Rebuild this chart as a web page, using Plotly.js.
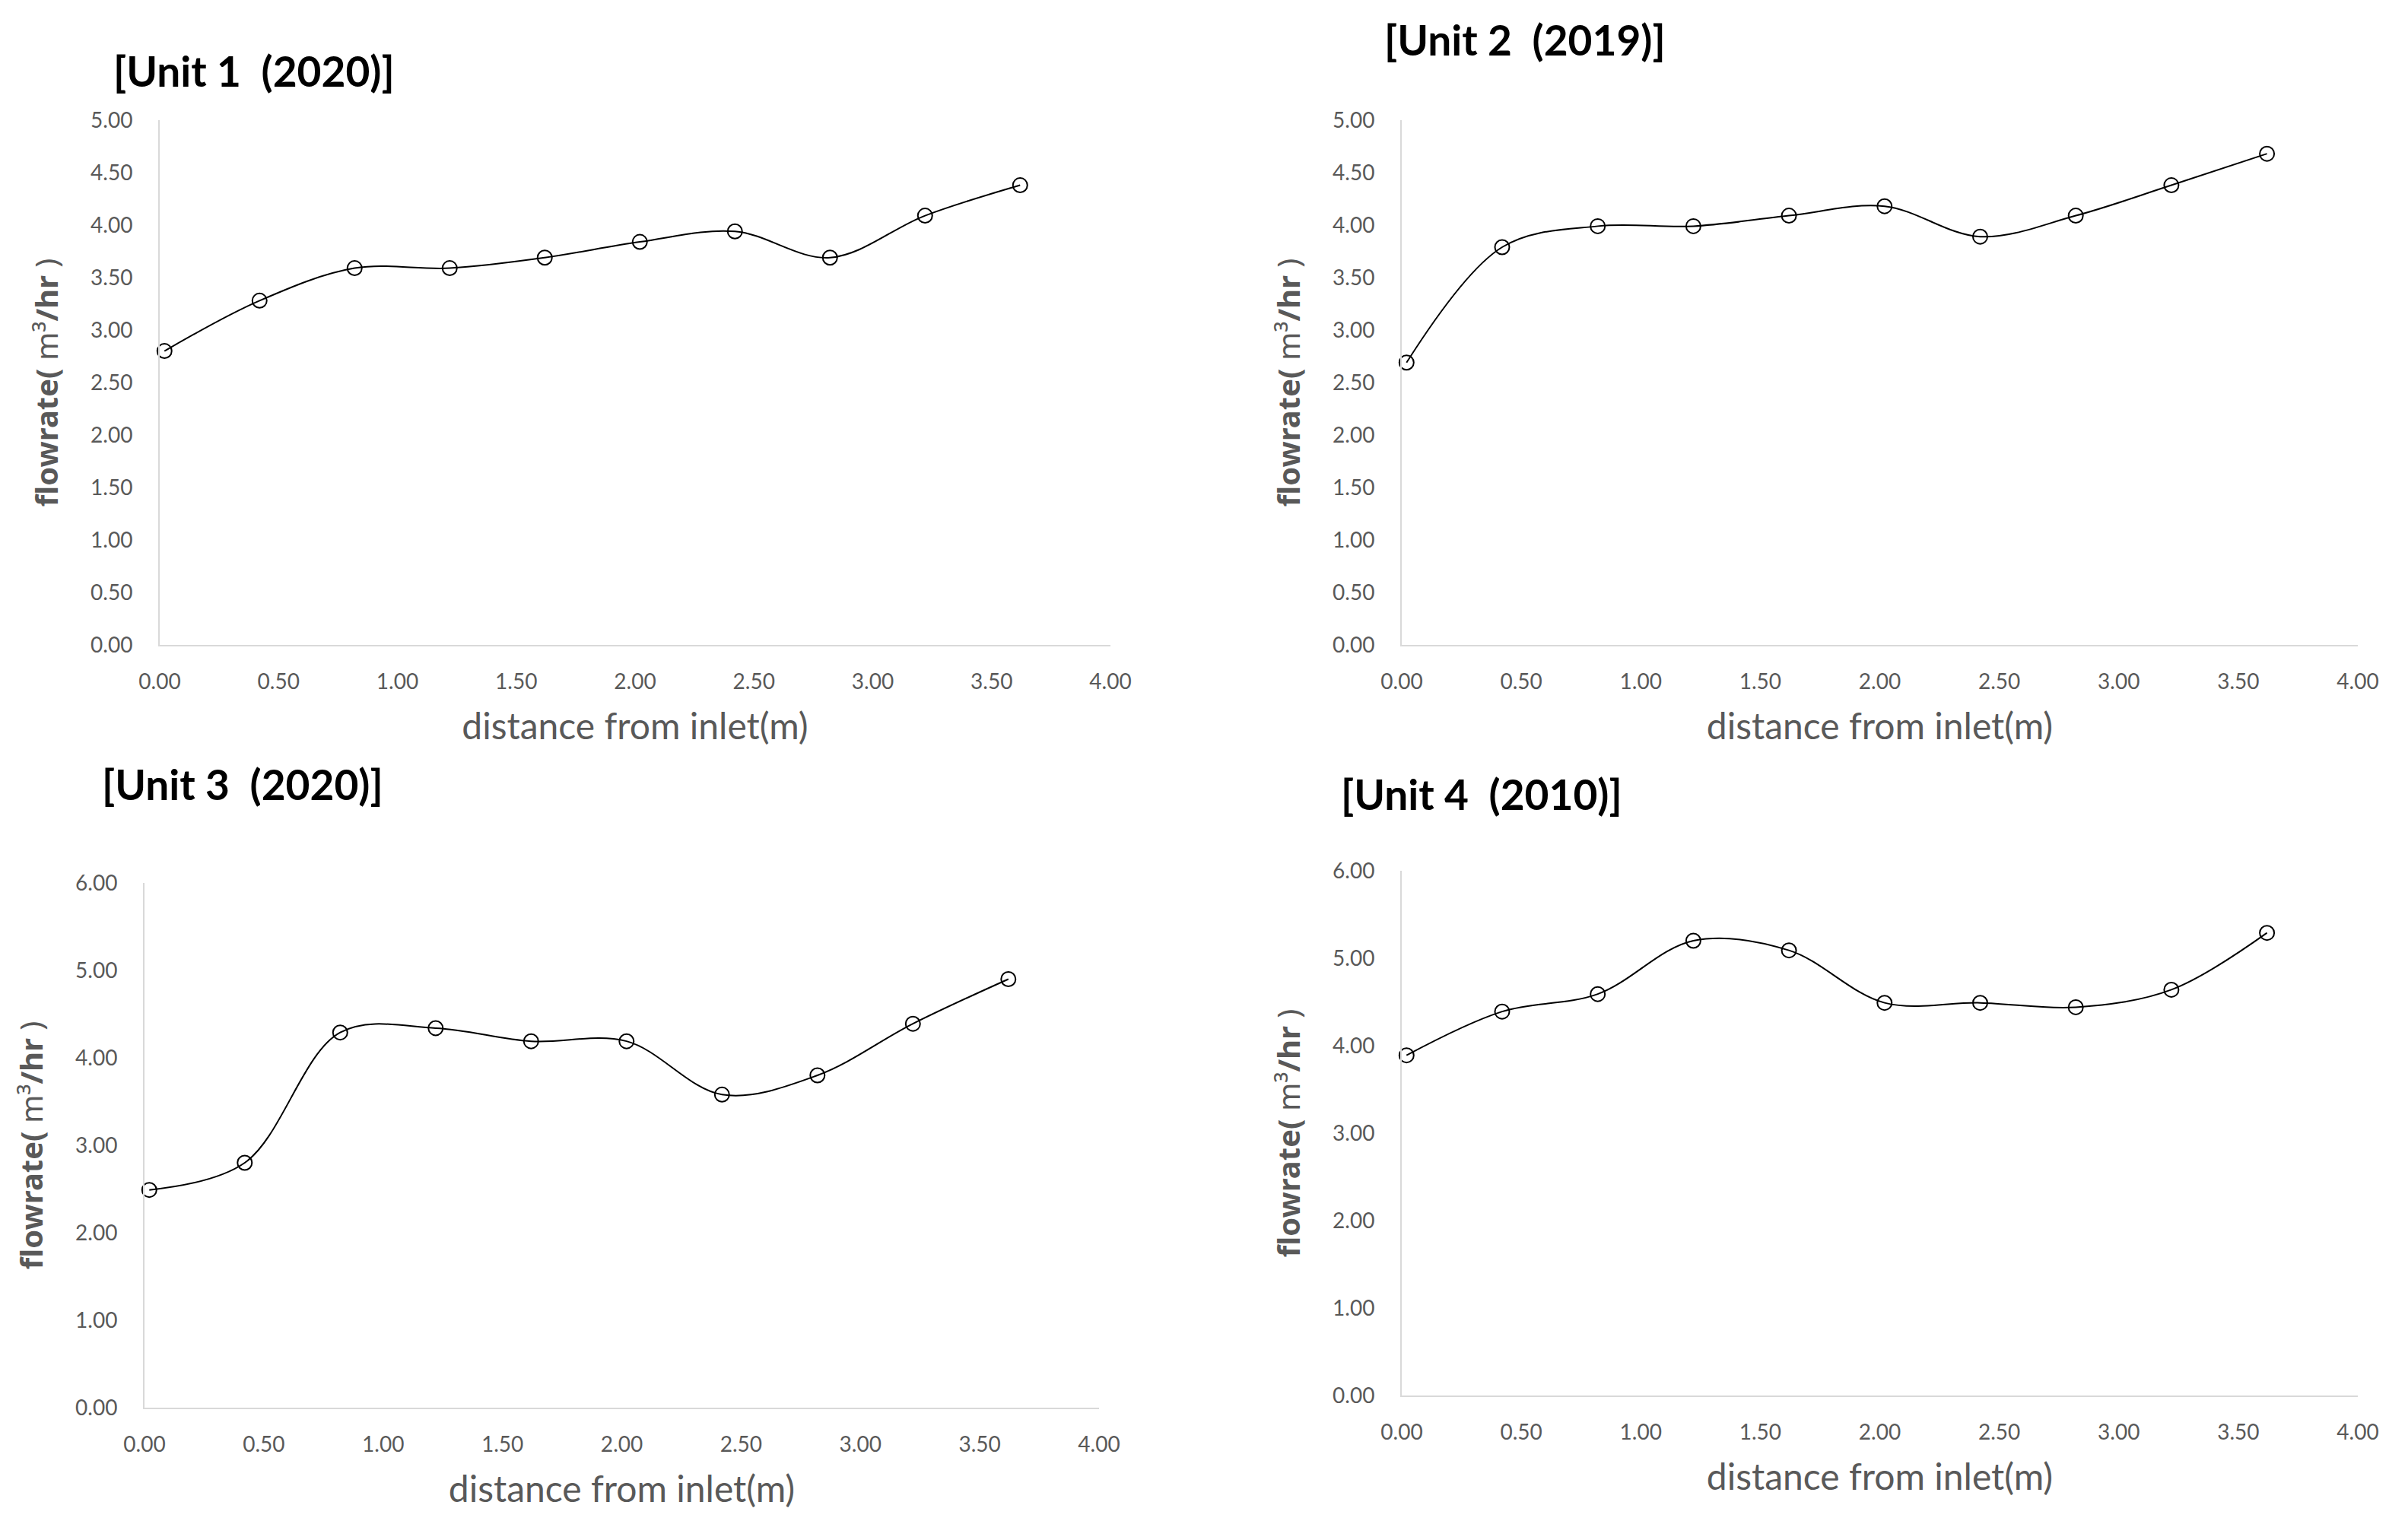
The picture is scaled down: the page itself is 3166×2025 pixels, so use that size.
<!DOCTYPE html>
<html>
<head>
<meta charset="utf-8">
<script src="https://cdn.plot.ly/plotly-3.0.1.min.js"></script>
<style>html,body{margin:0;padding:0;background:#fff;}#chart{width:3166px;height:2025px;}</style>
</head>
<body>
<div id="chart"></div>
<script>
// ---- data ----
const distance = [0.02, 0.42, 0.82, 1.22, 1.62, 2.02, 2.42, 2.82, 3.22, 3.62];
const unit1 = [2.80, 3.28, 3.59, 3.59, 3.69, 3.84, 3.94, 3.69, 4.09, 4.38];
const unit2 = [2.69, 3.79, 3.99, 3.99, 4.09, 4.18, 3.89, 4.09, 4.38, 4.68];
const unit3 = [2.49, 2.80, 4.29, 4.34, 4.19, 4.19, 3.58, 3.80, 4.39, 4.90];
const unit4 = [3.89, 4.39, 4.59, 5.20, 5.09, 4.49, 4.49, 4.44, 4.64, 5.29];
const panelTitles = ["[Unit 1 \u00a0(2020)]", "[Unit 2 \u00a0(2019)]", "[Unit 3 \u00a0(2020)]", "[Unit 4 \u00a0(2010)]"];
const xTitle = "distance from inlet(m)";
const yTitle = "<b>flowrate(</b> m\u00b3<b>/hr</b> )";
const yMax = [5, 5, 6, 6];
const yStep = [0.5, 0.5, 1, 1];

// ---- layout geometry (pixels) ----
const W = 3166, H = 2025;
const px = (x) => x / W, py = (y) => 1 - y / H;
const boxes = [
  {l: 210, r: 1460, t: 158, b: 848},
  {l: 1843, r: 3100, t: 158, b: 848},
  {l: 190, r: 1445, t: 1161, b: 1851},
  {l: 1843, r: 3100, t: 1145, b: 1835}
];
const titlePos = [[334, 93], [2005, 52], [319, 1031], [1948, 1044]];

const series = [unit1, unit2, unit3, unit4];
const traces = series.map((ys, i) => ({
  x: distance, y: ys, type: 'scatter', mode: 'lines+markers',
  xaxis: 'x' + (i ? i + 1 : ''), yaxis: 'y' + (i ? i + 1 : ''),
  line: {color: '#000000', width: 2, shape: 'spline', smoothing: 1},
  marker: {symbol: 'circle-open', size: 19, color: '#000000', line: {width: 2, color: '#000000'}},
  showlegend: false, cliponaxis: false
}));

const tickFont = {family: 'Lato, sans-serif', size: 28, color: '#595959'};
const layout = {
  width: W, height: H, margin: {l: 0, r: 0, t: 0, b: 0},
  paper_bgcolor: '#ffffff', plot_bgcolor: '#ffffff', showlegend: false,
  annotations: []
};
boxes.forEach((b, i) => {
  const s = i ? String(i + 1) : '';
  layout['xaxis' + s] = {
    domain: [px(b.l), px(b.r)], range: [0, 4], anchor: 'y' + s,
    tickmode: 'linear', tick0: 0, dtick: 0.5, tickformat: '.2f',
    showgrid: false, zeroline: false, showline: true, linecolor: '#d9d9d9', linewidth: 2,
    ticks: '', tickfont: tickFont, ticklabelstandoff: 22, fixedrange: true,
    title: {text: xTitle, standoff: 28, font: {family: 'Lato, sans-serif', size: 48, color: '#595959'}}
  };
  layout['yaxis' + s] = {
    domain: [py(b.b), py(b.t)], range: [0, yMax[i]], anchor: 'x' + s,
    tickmode: 'linear', tick0: 0, dtick: yStep[i], tickformat: '.2f',
    showgrid: false, zeroline: false, showline: true, linecolor: '#d9d9d9', linewidth: 2,
    ticks: '', tickfont: tickFont, ticklabelstandoff: 28, fixedrange: true,
    title: {text: yTitle, standoff: 30, font: {family: '"Noto Sans", sans-serif', size: 40, color: '#595959'}}
  };
  layout.annotations.push({
    text: '<b>' + panelTitles[i] + '</b>', xref: 'paper', yref: 'paper',
    x: px(titlePos[i][0]), y: py(titlePos[i][1]), xanchor: 'center', yanchor: 'middle',
    showarrow: false, font: {family: 'Lato, sans-serif', size: 55, color: '#000000'}
  });
});

Plotly.newPlot('chart', traces, layout, {staticPlot: true, displayModeBar: false});
</script>
</body>
</html>
